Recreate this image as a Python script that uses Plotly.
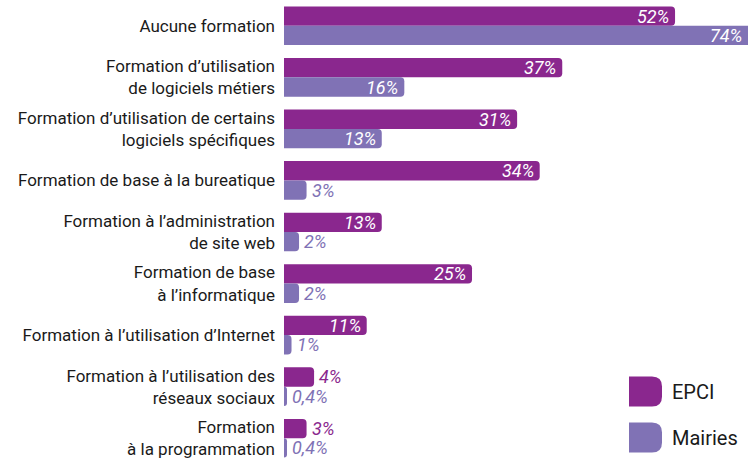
import plotly.graph_objects as go

categories = [
    "Aucune formation",
    "Formation d’utilisation<br>de logiciels métiers",
    "Formation d’utilisation de certains<br>logiciels spécifiques",
    "Formation de base à la bureatique",
    "Formation à l’administration<br>de site web",
    "Formation de base<br>à l’informatique",
    "Formation à l’utilisation d’Internet",
    "Formation à l’utilisation des<br>réseaux sociaux",
    "Formation<br>à la programmation",
]
epci = [52, 37, 31, 34, 13, 25, 11, 4, 3]
mairies = [74, 16, 13, 3, 2, 2, 1, 0.4, 0.4]
series_names = ["EPCI", "Mairies"]
colors = ["#8A278E", "#8072B5"]

FONT = "Roboto, sans-serif"
XMAX = 61.7
W, H = 749, 468
ML, MR, MT, MB = 284, 1, 0, 4

def fmt(v):
    s = ("%g" % v).replace(".", ",")
    return s + "%"

fig = go.Figure()
for name, vals, col in zip(series_names, [epci, mairies], colors):
    fig.add_trace(go.Bar(
        y=categories, x=vals, name=name, orientation="h",
        marker=dict(color=col, cornerradius=4, line=dict(width=0)),
        showlegend=False, hoverinfo="skip",
    ))

annotations = []
for si, (vals, col) in enumerate(zip([epci, mairies], colors)):
    yshift = 9.7 if si == 0 else -9.7
    for cat, v in zip(categories, vals):
        inside = v >= 8
        if inside:
            annotations.append(dict(
                x=min(v, XMAX), y=cat, xref="x", yref="y", text=fmt(v),
                xanchor="right", yanchor="middle", xshift=-4, yshift=yshift,
                showarrow=False,
                font=dict(family=FONT, size=18, color="white", style="italic"),
            ))
        else:
            annotations.append(dict(
                x=v, y=cat, xref="x", yref="y", text=fmt(v),
                xanchor="left", yanchor="middle", xshift=3, yshift=yshift,
                showarrow=False,
                font=dict(family=FONT, size=18, color=col, style="italic"),
            ))

# legend (drawn manually to get large rounded swatches)
pw = W - ML - MR
ph = H - MT - MB
leg_x = (629 - ML) / pw
leg_y = [1 - (391.5 - MT) / ph, 1 - (437.5 - MT) / ph]
shapes = []
for name, col, yy in zip(series_names, colors, leg_y):
    shapes.append(dict(
        type="path", xref="paper", yref="paper", xsizemode="pixel", ysizemode="pixel",
        xanchor=leg_x, yanchor=yy,
        path="M0,-15 H23 Q33,-15 33,-5 V5 Q33,15 23,15 H0 Z",
        fillcolor=col, line=dict(width=0), layer="above",
    ))
    annotations.append(dict(
        x=leg_x, y=yy, xref="paper", yref="paper", text=name,
        xanchor="left", yanchor="middle", xshift=41, showarrow=False,
        font=dict(family=FONT, size=20, color="#1a1a1a"),
    ))

fig.update_layout(
    width=W, height=H,
    margin=dict(l=ML, r=MR, t=MT, b=MB),
    paper_bgcolor="white", plot_bgcolor="white",
    barmode="group", bargap=0.25, bargroupgap=0,
    xaxis=dict(range=[0, XMAX], visible=False, fixedrange=True, automargin=False),
    yaxis=dict(autorange="reversed", showgrid=False, showline=False, zeroline=False,
               ticks="", ticklabelstandoff=8, automargin=False, fixedrange=True,
               tickfont=dict(family=FONT, size=17, color="#1a1a1a")),
    annotations=annotations, shapes=shapes,
)

fig.write_html("out.html", config={"displayModeBar": False},
               post_script="document.body.style.margin='0px';")
